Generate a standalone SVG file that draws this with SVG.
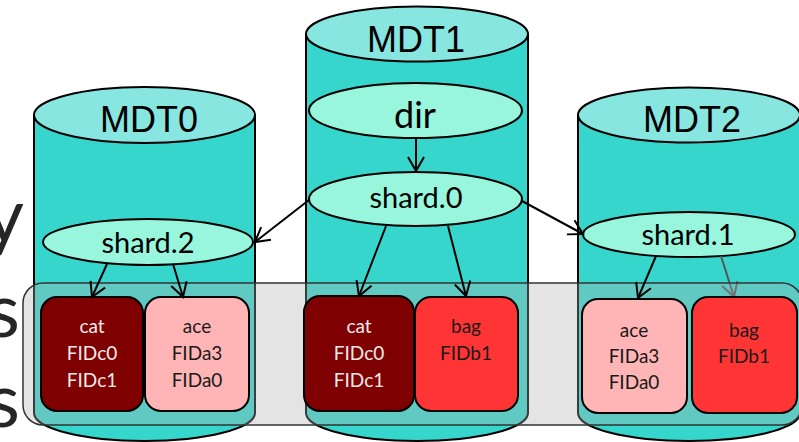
<svg xmlns="http://www.w3.org/2000/svg" width="799" height="442" viewBox="0 0 799 442">
<style>
.side{fill:#36d6cc;stroke:#000;stroke-width:2}
.top{fill:#88e6e0;stroke:#000;stroke-width:2}
.inner{fill:#98f6dc;stroke:#000;stroke-width:2}
.mdt{font-family:"Liberation Sans",Arial,sans-serif;font-size:36px;fill:#000;text-anchor:middle}
.lbl{font-family:Lato,"Noto Sans",sans-serif;fill:#000;text-anchor:middle}
.card{stroke:#000;stroke-width:2}
.ct{font-family:Lato,"Noto Sans",sans-serif;font-size:19px;text-anchor:middle}
.frag{font-family:Lato,"Noto Sans",sans-serif;font-size:76px;fill:#262626;text-anchor:end}
.arr{stroke:#000;stroke-width:2;fill:none;marker-end:url(#v)}
</style>
<defs>
<marker id="v" markerUnits="userSpaceOnUse" markerWidth="20" markerHeight="20" viewBox="0 0 20 20" refX="17" refY="10" orient="auto">
<path d="M3,2 L17,10 L3,18" fill="none" stroke="#000" stroke-width="2"/>
</marker>
<marker id="vg" markerUnits="userSpaceOnUse" markerWidth="20" markerHeight="20" viewBox="0 0 20 20" refX="17" refY="10" orient="auto">
<path d="M3,2 L17,10 L3,18" fill="none" stroke="#555" stroke-width="2"/>
</marker>
</defs>
<rect width="799" height="442" fill="#fff"/>
<g id="fragments">
<text class="frag" x="24" y="242">y</text>
<text class="frag" x="20" y="337">s</text>
<text class="frag" x="20" y="427">s</text>
</g>
<g id="MDT0">
<path class="side" d="M34,115 L34,413 A110.5,28 0 0 0 255,413 L255,115 Z"/>
<ellipse class="top" cx="144.5" cy="115" rx="110.5" ry="28"/>
<text class="mdt" x="149" y="132">MDT0</text>
</g>
<g id="MDT1">
<path class="side" d="M306,34 L306,413 A111,28 0 0 0 528,413 L528,34 Z"/>
<ellipse class="top" cx="417" cy="34" rx="111" ry="27.5"/>
<text class="mdt" x="416" y="52">MDT1</text>
</g>
<g id="MDT2">
<path class="side" d="M578,115 L578,413 A111,28 0 0 0 800,413 L800,115 Z"/>
<ellipse class="top" cx="689" cy="115" rx="111" ry="27.5"/>
<text class="mdt" x="692" y="132">MDT2</text>
</g>
<g id="dir">
<ellipse class="inner" cx="415.5" cy="110.5" rx="106.5" ry="27.5"/>
<text class="lbl" x="415" y="128" font-size="36">dir</text>
</g>
<g id="shard0">
<ellipse class="inner" cx="415.5" cy="199" rx="106.5" ry="27"/>
<text class="lbl" x="416" y="208" font-size="29">shard.0</text>
</g>
<g id="shard2">
<ellipse class="inner" cx="148" cy="242" rx="105" ry="23"/>
<text class="lbl" x="148" y="253" font-size="29">shard.2</text>
</g>
<g id="shard1">
<ellipse class="inner" cx="689" cy="234.5" rx="106" ry="22.5"/>
<text class="lbl" x="688" y="245" font-size="29">shard.1</text>
</g>
<g id="connectors-under">
<line x1="721" y1="256" x2="734" y2="297" stroke="#555" stroke-width="2" marker-end="url(#vg)"/>
</g>
<g id="group-box">
<rect x="23" y="283" width="779" height="142" rx="20" fill="#afafaf" fill-opacity="0.34" stroke="#333" stroke-width="1.5"/>
</g>
<g id="cat0">
<rect class="card" x="41" y="297" width="102" height="114" rx="16" fill="#7f0000"/>
<text class="ct" fill="#f5eaea"><tspan x="92" y="333">cat</tspan><tspan x="92" y="360">FIDc0</tspan><tspan x="92" y="387">FIDc1</tspan></text>
</g>
<g id="ace0">
<rect class="card" x="145" y="297" width="104" height="114" rx="16" fill="#ffb5b5"/>
<text class="ct" fill="#1a1a1a"><tspan x="197" y="333">ace</tspan><tspan x="197" y="360">FIDa3</tspan><tspan x="197" y="387">FIDa0</tspan></text>
</g>
<g id="cat1">
<rect class="card" x="304" y="296" width="110" height="115" rx="16" fill="#7f0000"/>
<text class="ct" fill="#f5eaea"><tspan x="359" y="333">cat</tspan><tspan x="359" y="360">FIDc0</tspan><tspan x="359" y="387">FIDc1</tspan></text>
</g>
<g id="bag1">
<rect class="card" x="415" y="297" width="103" height="114" rx="16" fill="#ff3535"/>
<text class="ct" fill="#1a1a1a"><tspan x="466" y="333">bag</tspan><tspan x="466" y="360">FIDb1</tspan></text>
</g>
<g id="ace2">
<rect class="card" x="582" y="299" width="105" height="114" rx="16" fill="#ffb5b5"/>
<text class="ct" fill="#1a1a1a"><tspan x="634" y="337">ace</tspan><tspan x="634" y="363">FIDa3</tspan><tspan x="634" y="389">FIDa0</tspan></text>
</g>
<g id="bag2">
<rect class="card" x="692" y="297" width="105" height="116" rx="16" fill="#ff3535"/>
<text class="ct" fill="#1a1a1a"><tspan x="744" y="337">bag</tspan><tspan x="744" y="363">FIDb1</tspan></text>
</g>
<g id="connectors">
<line class="arr" x1="416" y1="139" x2="416" y2="171"/>
<line class="arr" x1="309" y1="200" x2="255" y2="242"/>
<line class="arr" x1="522" y1="201" x2="583" y2="234"/>
<line class="arr" x1="386" y1="226" x2="359" y2="296"/>
<line class="arr" x1="448" y1="226" x2="466" y2="296"/>
<line class="arr" x1="107" y1="264" x2="92" y2="297"/>
<line class="arr" x1="173" y1="264" x2="183" y2="297"/>
<line class="arr" x1="656" y1="256" x2="638" y2="298"/>
</g>
</svg>
